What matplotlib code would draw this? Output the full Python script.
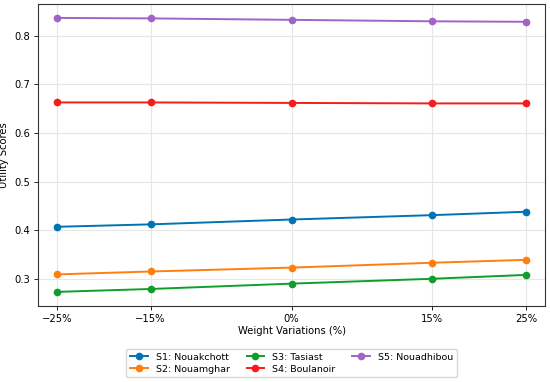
import matplotlib
matplotlib.use("Agg")
import matplotlib.pyplot as plt

# weight variations (%) and utility scores per site
variations = [-25, -15, 0, 15, 25]
tick_labels = ["\u221225%", "\u221215%", "0%", "15%", "25%"]

s1_nouakchott = [0.407, 0.412, 0.422, 0.431, 0.438]
s2_nouamghar = [0.309, 0.315, 0.323, 0.333, 0.339]
s3_tasiast = [0.273, 0.279, 0.290, 0.300, 0.308]
s4_boulanoir = [0.663, 0.663, 0.662, 0.661, 0.661]
s5_nouadhibou = [0.837, 0.836, 0.833, 0.830, 0.829]

series = [
    ("S1: Nouakchott", s1_nouakchott, "#0173b2"),
    ("S2: Nouamghar", s2_nouamghar, "#ff7f0e"),
    ("S3: Tasiast", s3_tasiast, "#0f9e2c"),
    ("S4: Boulanoir", s4_boulanoir, "#f51c1c"),
    ("S5: Nouadhibou", s5_nouadhibou, "#a064c8"),
]

fig = plt.figure(figsize=(5.5, 3.82), dpi=100)
ax = fig.add_axes([0.069, 0.199, 0.922, 0.791])

for name, vals, col in series:
    ax.plot(variations, vals, marker="o", markersize=4.5, linewidth=1.4,
            color=col, label=name)

ax.set_xticks(variations)
ax.set_xticklabels(tick_labels)
ax.set_yticks([0.3, 0.4, 0.5, 0.6, 0.7, 0.8])
ax.set_ylim(0.244, 0.866)
ax.set_xlim(-27, 27)
ax.tick_params(labelsize=7.2, length=3, width=0.6, pad=2.5)
ax.set_xlabel("Weight Variations (%)", fontsize=7.2, labelpad=2)
ax.set_ylabel("Utility Scores", fontsize=7.2)
ax.yaxis.set_label_coords(-0.058, 0.5)
ax.grid(True, color="#e6e6e6", linewidth=0.8)
for sp in ax.spines.values():
    sp.set_linewidth(0.8)
    sp.set_color("#333333")

ax.legend(loc="upper center", bbox_to_anchor=(0.5, -0.142), ncol=3,
          fontsize=6.8, frameon=True, handlelength=1.9, columnspacing=1.8,
          borderpad=0.4, labelspacing=0.3, borderaxespad=0,
          edgecolor="#cccccc")

fig.savefig("out.png", dpi=100)
